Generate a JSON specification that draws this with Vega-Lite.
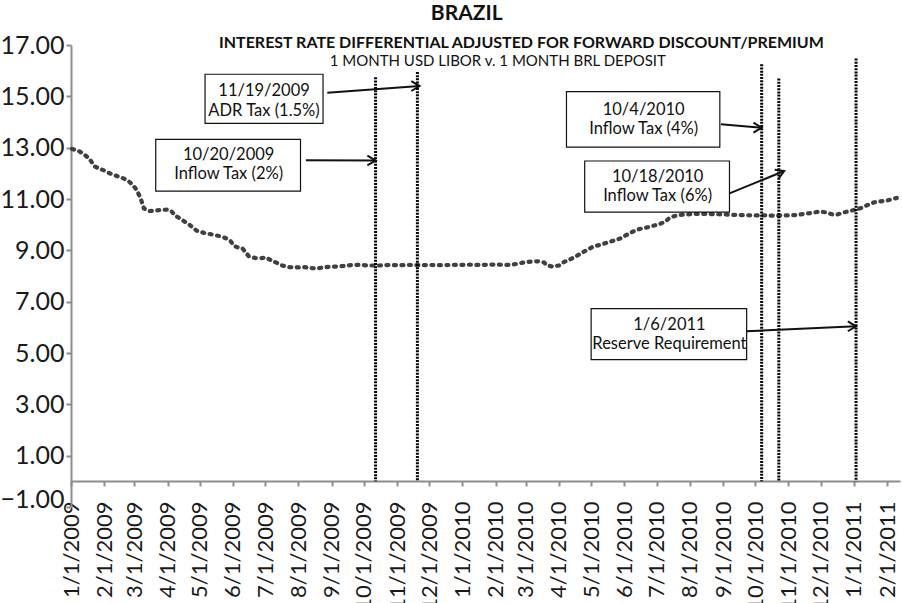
{
  "$schema": "https://vega.github.io/schema/vega-lite/v6.json",
  "width": 829,
  "height": 462,
  "autosize": {"type": "none"},
  "padding": {"left": 71, "top": 45, "right": 2, "bottom": 96},
  "background": "white",
  "config": {"view": {"stroke": null}},
  "datasets": {
    "series": [
      {"date": "2009-01-02", "rate": 12.95}, {"date": "2009-01-09", "rate": 12.85}, {"date": "2009-01-13", "rate": 12.74},
      {"date": "2009-01-18", "rate": 12.58}, {"date": "2009-01-23", "rate": 12.27}, {"date": "2009-01-27", "rate": 12.19},
      {"date": "2009-02-01", "rate": 12.11}, {"date": "2009-02-06", "rate": 12.0}, {"date": "2009-02-11", "rate": 11.92},
      {"date": "2009-02-17", "rate": 11.84}, {"date": "2009-02-23", "rate": 11.72}, {"date": "2009-02-27", "rate": 11.57},
      {"date": "2009-03-03", "rate": 11.37}, {"date": "2009-03-07", "rate": 11.02}, {"date": "2009-03-10", "rate": 10.63},
      {"date": "2009-03-15", "rate": 10.53}, {"date": "2009-03-21", "rate": 10.55}, {"date": "2009-03-26", "rate": 10.57},
      {"date": "2009-04-01", "rate": 10.59}, {"date": "2009-04-05", "rate": 10.51}, {"date": "2009-04-08", "rate": 10.36},
      {"date": "2009-04-14", "rate": 10.2}, {"date": "2009-04-21", "rate": 10.01}, {"date": "2009-04-28", "rate": 9.77},
      {"date": "2009-05-05", "rate": 9.68}, {"date": "2009-05-12", "rate": 9.62}, {"date": "2009-05-19", "rate": 9.56},
      {"date": "2009-05-25", "rate": 9.48}, {"date": "2009-05-30", "rate": 9.35}, {"date": "2009-06-02", "rate": 9.17},
      {"date": "2009-06-07", "rate": 9.09}, {"date": "2009-06-10", "rate": 9.07}, {"date": "2009-06-16", "rate": 8.76},
      {"date": "2009-06-22", "rate": 8.7}, {"date": "2009-06-28", "rate": 8.7}, {"date": "2009-07-02", "rate": 8.72},
      {"date": "2009-07-07", "rate": 8.6}, {"date": "2009-07-12", "rate": 8.51}, {"date": "2009-07-17", "rate": 8.41},
      {"date": "2009-07-23", "rate": 8.35}, {"date": "2009-07-29", "rate": 8.33}, {"date": "2009-08-05", "rate": 8.35},
      {"date": "2009-08-11", "rate": 8.32}, {"date": "2009-08-18", "rate": 8.29}, {"date": "2009-08-23", "rate": 8.33},
      {"date": "2009-08-30", "rate": 8.36}, {"date": "2009-09-06", "rate": 8.37}, {"date": "2009-09-12", "rate": 8.39},
      {"date": "2009-09-20", "rate": 8.43}, {"date": "2009-09-27", "rate": 8.43}, {"date": "2009-10-06", "rate": 8.41},
      {"date": "2009-10-16", "rate": 8.41}, {"date": "2009-10-25", "rate": 8.43}, {"date": "2009-11-03", "rate": 8.42},
      {"date": "2009-11-13", "rate": 8.43}, {"date": "2009-11-22", "rate": 8.42}, {"date": "2009-12-01", "rate": 8.43},
      {"date": "2009-12-11", "rate": 8.42}, {"date": "2009-12-20", "rate": 8.43}, {"date": "2009-12-29", "rate": 8.43},
      {"date": "2010-01-08", "rate": 8.44}, {"date": "2010-01-17", "rate": 8.43}, {"date": "2010-01-26", "rate": 8.44},
      {"date": "2010-02-05", "rate": 8.44}, {"date": "2010-02-11", "rate": 8.43}, {"date": "2010-02-19", "rate": 8.46},
      {"date": "2010-02-25", "rate": 8.51}, {"date": "2010-03-03", "rate": 8.55}, {"date": "2010-03-09", "rate": 8.57},
      {"date": "2010-03-14", "rate": 8.57}, {"date": "2010-03-18", "rate": 8.53}, {"date": "2010-03-21", "rate": 8.41},
      {"date": "2010-03-26", "rate": 8.37}, {"date": "2010-04-01", "rate": 8.41}, {"date": "2010-04-06", "rate": 8.55},
      {"date": "2010-04-11", "rate": 8.64}, {"date": "2010-04-17", "rate": 8.77}, {"date": "2010-04-23", "rate": 8.92},
      {"date": "2010-04-28", "rate": 9.03}, {"date": "2010-05-03", "rate": 9.15}, {"date": "2010-05-09", "rate": 9.21},
      {"date": "2010-05-15", "rate": 9.29}, {"date": "2010-05-22", "rate": 9.38}, {"date": "2010-05-28", "rate": 9.46},
      {"date": "2010-06-03", "rate": 9.6}, {"date": "2010-06-09", "rate": 9.73}, {"date": "2010-06-15", "rate": 9.83},
      {"date": "2010-06-22", "rate": 9.89}, {"date": "2010-06-27", "rate": 9.95}, {"date": "2010-07-03", "rate": 10.01},
      {"date": "2010-07-09", "rate": 10.12}, {"date": "2010-07-13", "rate": 10.26}, {"date": "2010-07-18", "rate": 10.34},
      {"date": "2010-07-23", "rate": 10.38}, {"date": "2010-07-29", "rate": 10.4}, {"date": "2010-08-06", "rate": 10.42},
      {"date": "2010-08-15", "rate": 10.42}, {"date": "2010-08-24", "rate": 10.41}, {"date": "2010-09-03", "rate": 10.4},
      {"date": "2010-09-12", "rate": 10.38}, {"date": "2010-09-21", "rate": 10.37}, {"date": "2010-10-01", "rate": 10.36},
      {"date": "2010-10-10", "rate": 10.36}, {"date": "2010-10-19", "rate": 10.35}, {"date": "2010-10-29", "rate": 10.36},
      {"date": "2010-11-07", "rate": 10.37}, {"date": "2010-11-16", "rate": 10.42}, {"date": "2010-11-23", "rate": 10.46},
      {"date": "2010-11-30", "rate": 10.51}, {"date": "2010-12-06", "rate": 10.48}, {"date": "2010-12-12", "rate": 10.4},
      {"date": "2010-12-17", "rate": 10.4}, {"date": "2010-12-23", "rate": 10.48}, {"date": "2010-12-28", "rate": 10.53},
      {"date": "2011-01-03", "rate": 10.59}, {"date": "2011-01-09", "rate": 10.67}, {"date": "2011-01-14", "rate": 10.77},
      {"date": "2011-01-20", "rate": 10.87}, {"date": "2011-01-25", "rate": 10.9}, {"date": "2011-02-01", "rate": 10.94},
      {"date": "2011-02-06", "rate": 11.0}, {"date": "2011-02-10", "rate": 11.04}
    ],
    "events": [
      {"date": "2009-10-12", "top": 15.74, "bottom": 0},
      {"date": "2009-11-20", "top": 15.95, "bottom": 0},
      {"date": "2010-10-07", "top": 16.25, "bottom": 0},
      {"date": "2010-10-23", "top": 15.69, "bottom": 0},
      {"date": "2011-01-03", "top": 16.47, "bottom": 0}
    ],
    "boxes": [
      {"x1": "2009-05-06", "x2": "2009-08-24", "y1": 15.86, "y2": 13.95, "cx": "2009-06-30", "cy": 15.2, "label": "11/19/2009\nADR Tax (1.5%)"},
      {"x1": "2009-03-21", "x2": "2009-08-03", "y1": 13.32, "y2": 11.31, "cx": "2009-05-28", "cy": 12.72, "label": "10/20/2009\nInflow Tax (2%)"},
      {"x1": "2010-04-08", "x2": "2010-08-29", "y1": 15.18, "y2": 13.02, "cx": "2010-06-19", "cy": 14.48, "label": "10/4/2010\nInflow Tax (4%)"},
      {"x1": "2010-04-25", "x2": "2010-09-07", "y1": 12.48, "y2": 10.49, "cx": "2010-07-02", "cy": 11.87, "label": "10/18/2010\nInflow Tax (6%)"},
      {"x1": "2010-05-01", "x2": "2010-09-23", "y1": 6.73, "y2": 4.74, "cx": "2010-07-13", "cy": 6.11, "label": "1/6/2011\nReserve Requirement"}
    ],
    "arrows": [
      {"id": 1, "x1": "2009-08-28", "y1": 15.14, "x2": "2009-11-22", "y2": 15.4},
      {"id": 2, "x1": "2009-08-08", "y1": 12.51, "x2": "2009-10-12", "y2": 12.5},
      {"id": 3, "x1": "2010-08-30", "y1": 13.91, "x2": "2010-10-07", "y2": 13.78},
      {"id": 4, "x1": "2010-09-07", "y1": 11.22, "x2": "2010-10-28", "y2": 12.09},
      {"id": 5, "x1": "2010-09-23", "y1": 5.85, "x2": "2011-01-03", "y2": 6.04}
    ],
    "head0": [{"date": "2010-01-05", "value": 17.97, "text": "BRAZIL"}],
    "head1": [{"date": "2010-02-25", "value": 16.9, "text": "INTEREST RATE DIFFERENTIAL ADJUSTED FOR FORWARD DISCOUNT/PREMIUM"}],
    "head2": [{"date": "2010-02-03", "value": 16.18, "text": "1 MONTH USD LIBOR v. 1 MONTH BRL DEPOSIT"}]
  },
  "layer": [
    {
      "data": {"name": "series"},
      "mark": {"type": "line", "color": "#404040", "strokeWidth": 4.2, "strokeDash": [2, 5.5], "strokeCap": "round", "clip": false},
      "encoding": {
        "x": {
          "field": "date", "type": "temporal", "title": null,
          "scale": {"type": "utc", "domain": [{"year": 2009, "month": 1, "date": 1, "utc": true}, {"year": 2011, "month": 2, "date": 13, "utc": true}]},
          "axis": {
            "format": "%-m/%-d/%Y", "tickCount": {"interval": "month", "step": 1},
            "labelAngle": -90, "labelAlign": "right", "labelBaseline": "middle",
            "labelFont": "Lato", "labelFontSize": 22, "labelColor": "#1a1a1a", "labelPadding": 15,
            "labelOverlap": false, "labelFlush": false, "grid": false,
            "domainColor": "#8c8c8c", "domainWidth": 2, "tickColor": "#8c8c8c", "tickWidth": 2, "tickSize": 5,
            "offset": -26
          }
        },
        "y": {
          "field": "rate", "type": "quantitative", "title": null,
          "scale": {"domain": [-1, 17], "nice": false, "zero": false},
          "axis": {
            "values": [-1, 1, 3, 5, 7, 9, 11, 13, 15, 17], "format": ".2f",
            "labelFont": "Lato", "labelFontSize": 25, "labelColor": "#1a1a1a", "labelPadding": 2,
            "labelOffset": {"condition": {"test": "datum.value < 0", "value": -8}, "value": 0},
            "grid": false, "domainColor": "#8c8c8c", "domainWidth": 2, "tickColor": "#8c8c8c", "tickWidth": 2, "tickSize": 5
          }
        }
      }
    },
    {
      "data": {"name": "events"},
      "mark": {"type": "rule", "color": "#000000", "strokeWidth": 3, "strokeDash": [2, 1.2]},
      "encoding": {
        "x": {"field": "date", "type": "temporal", "title": null},
        "y": {"field": "top", "type": "quantitative", "title": null},
        "y2": {"field": "bottom"}
      }
    },
    {
      "data": {"name": "boxes"},
      "mark": {"type": "rect", "fill": "white", "stroke": "#111111", "strokeWidth": 1.2},
      "encoding": {
        "x": {"field": "x1", "type": "temporal", "title": null},
        "x2": {"field": "x2"},
        "y": {"field": "y1", "type": "quantitative", "title": null},
        "y2": {"field": "y2"}
      }
    },
    {
      "data": {"name": "arrows"},
      "mark": {"type": "rule", "color": "#111111", "strokeWidth": 2},
      "encoding": {
        "x": {"field": "x1", "type": "temporal", "title": null},
        "x2": {"field": "x2"},
        "y": {"field": "y1", "type": "quantitative", "title": null},
        "y2": {"field": "y2"}
      }
    },
    {
      "data": {"name": "arrows"},
      "transform": [{"filter": "datum.id != 4"}],
      "mark": {"type": "point", "shape": "M-1,-0.6L0,0L-1,0.6", "size": 270, "filled": false, "stroke": "#111111", "strokeWidth": 2, "opacity": 1},
      "encoding": {
        "x": {"field": "x2", "type": "temporal", "title": null},
        "y": {"field": "y2", "type": "quantitative", "title": null}
      }
    },
    {
      "data": {"name": "arrows"},
      "transform": [{"filter": "datum.id == 4"}],
      "mark": {"type": "point", "shape": "M-1,-0.6L0,0L-1,0.6", "size": 270, "filled": false, "stroke": "#111111", "strokeWidth": 2, "opacity": 1, "angle": -23},
      "encoding": {
        "x": {"field": "x2", "type": "temporal", "title": null},
        "y": {"field": "y2", "type": "quantitative", "title": null}
      }
    },
    {
      "data": {"name": "boxes"},
      "mark": {"type": "text", "font": "Lato", "fontSize": 16.5, "color": "#111111", "align": "center", "baseline": "middle", "lineBreak": "\n", "lineHeight": 19.5},
      "encoding": {
        "x": {"field": "cx", "type": "temporal", "title": null},
        "y": {"field": "cy", "type": "quantitative", "title": null},
        "text": {"field": "label"}
      }
    },
    {
      "data": {"name": "head0"},
      "mark": {"type": "text", "font": "Lato", "fontSize": 21, "fontWeight": "bold", "color": "#111111", "align": "center", "baseline": "alphabetic", "clip": false},
      "encoding": {
        "x": {"field": "date", "type": "temporal", "title": null},
        "y": {"field": "value", "type": "quantitative", "title": null},
        "text": {"field": "text"}
      }
    },
    {
      "data": {"name": "head1"},
      "mark": {"type": "text", "font": "Lato", "fontSize": 16, "fontWeight": "bold", "color": "#111111", "align": "center", "baseline": "alphabetic", "clip": false},
      "encoding": {
        "x": {"field": "date", "type": "temporal", "title": null},
        "y": {"field": "value", "type": "quantitative", "title": null},
        "text": {"field": "text"}
      }
    },
    {
      "data": {"name": "head2"},
      "mark": {"type": "text", "font": "Lato", "fontSize": 15, "color": "#111111", "align": "center", "baseline": "alphabetic", "clip": false},
      "encoding": {
        "x": {"field": "date", "type": "temporal", "title": null},
        "y": {"field": "value", "type": "quantitative", "title": null},
        "text": {"field": "text"}
      }
    }
  ]
}
